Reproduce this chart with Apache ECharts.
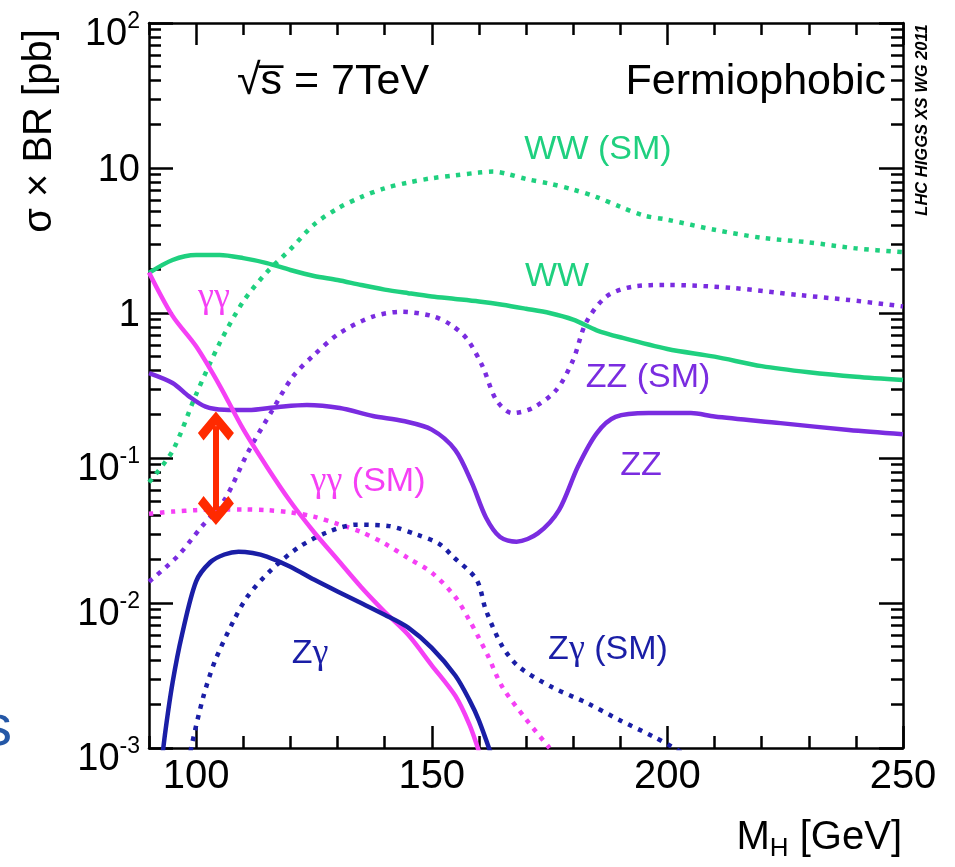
<!DOCTYPE html>
<html><head><meta charset="utf-8">
<script src="https://cdn.jsdelivr.net/npm/echarts@6/dist/echarts.min.js"></script>
<style>html,body{margin:0;padding:0;background:#fff}#c{width:955px;height:867px}</style>
</head><body><div id="c"></div>
<script>
// ---------------- data (M_H in GeV, sigma x BR in pb) ----------------
const wwMass = [90, 95, 100, 105, 110, 115, 120, 125, 130, 135, 140, 145, 150, 155, 160, 165, 170, 175, 180, 185, 190, 200, 210, 220, 230, 240, 250];
const wwVal  = [1.89, 2.32, 2.51, 2.51, 2.39, 2.21, 1.98, 1.80, 1.69, 1.56, 1.45, 1.37, 1.30, 1.25, 1.20, 1.14, 1.07, 1.00, 0.90, 0.76, 0.68, 0.565, 0.50, 0.43, 0.39, 0.363, 0.345];

const wwSmMass = [90, 95, 100, 105, 110, 115, 120, 125, 130, 135, 140, 145, 150, 155, 160, 163, 166, 170, 175, 180, 185, 190, 195, 200, 210, 220, 230, 240, 250];
const wwSmVal  = [0.068, 0.112, 0.275, 0.62, 1.20, 1.91, 2.75, 4.07, 5.25, 6.3, 7.24, 7.94, 8.5, 8.9, 9.3, 9.45, 9.1, 8.4, 7.8, 7.1, 6.3, 5.4, 4.7, 4.4, 3.75, 3.3, 3.07, 2.79, 2.63];

const ggMass = [90, 95, 100, 105, 110, 115, 120, 125, 130, 135, 140, 145, 150, 155, 158, 160];
const ggVal  = [1.905, 0.955, 0.589, 0.316, 0.158, 0.0871, 0.0501, 0.0309, 0.01995, 0.0129, 0.0087, 0.00603, 0.00372, 0.00229, 0.00145, 0.00095];

const ggSmMass = [90, 95, 100, 105, 110, 115, 120, 125, 130, 135, 140, 145, 150, 155, 158, 160, 162, 165, 170, 175];
const ggSmVal  = [0.0412, 0.0427, 0.0437, 0.0442, 0.0442, 0.0437, 0.0422, 0.0394, 0.0351, 0.0309, 0.0257, 0.0204, 0.0162, 0.011, 0.00759, 0.00575, 0.00427, 0.00263, 0.00158, 0.001];

const zgMass = [92.5, 93.5, 95, 97, 100, 103, 106, 109, 112, 115, 120, 125, 130, 135, 140, 145, 150, 155, 158, 160, 163];
const zgVal  = [0.000708, 0.00132, 0.00282, 0.00603, 0.0141, 0.0191, 0.0216, 0.0226, 0.0221, 0.0209, 0.0178, 0.0145, 0.012, 0.01, 0.0083, 0.00676, 0.0049, 0.00316, 0.00214, 0.00155, 0.00083];

const zgSmMass = [98.5, 99, 101.5, 104, 108, 111, 116, 122, 128, 134, 141, 147, 151.5, 154.5, 159.5, 161.5, 165, 168.5, 175.5, 183, 190, 197, 201, 203];
const zgSmVal  = [0.000794, 0.00102, 0.00224, 0.00398, 0.00759, 0.0112, 0.017, 0.0245, 0.0309, 0.0347, 0.0339, 0.0295, 0.0257, 0.0209, 0.0145, 0.00891, 0.00501, 0.00363, 0.00263, 0.00204, 0.00155, 0.0012, 0.00102, 0.00093];

const zzMass = [90, 95, 98.5, 102, 106, 111, 117.5, 123.5, 130.5, 137.5, 144, 150, 155, 158.5, 161.5, 164.5, 168, 172.5, 177, 181, 185, 189, 196, 205, 210, 224, 238.5, 250];
const zzVal  = [0.385, 0.329, 0.266, 0.226, 0.215, 0.214, 0.225, 0.232, 0.221, 0.195, 0.18, 0.157, 0.1135, 0.0676, 0.0389, 0.0285, 0.0265, 0.0302, 0.0437, 0.0871, 0.148, 0.192, 0.204, 0.204, 0.193, 0.174, 0.156, 0.146];

const zzSmMass = [90, 96, 101, 106, 111, 116, 120.5, 125, 130.5, 137.5, 143.5, 150, 154, 157.5, 160.8, 163.7, 167.1, 171.4, 176.4, 180, 182.7, 187, 192.5, 200, 214, 228, 238.5, 250];
const zzSmVal  = [0.01403, 0.0209, 0.0331, 0.0513, 0.1096, 0.209, 0.363, 0.513, 0.728, 0.944, 1.02, 0.955, 0.832, 0.661, 0.427, 0.251, 0.204, 0.221, 0.294, 0.474, 0.853, 1.294, 1.517, 1.56, 1.486, 1.33, 1.23, 1.11];

// red double arrow (annotation) in data units: centres of the two arrow heads
const arrowMass = 104.2;
const arrowEnds = [0.166, 0.0435];

// ---------------- ticks ----------------
const xMajorTicks = [100, 150, 200, 250];
const xMinorTicks = [90, 100, 110, 120, 130, 140, 150, 160, 170, 180, 190, 200, 210, 220, 230, 240, 250];
const yMinorTicks = [0.002,0.003,0.004,0.005,0.006,0.007,0.008,0.009,
                     0.02,0.03,0.04,0.05,0.06,0.07,0.08,0.09,
                     0.2,0.3,0.4,0.5,0.6,0.7,0.8,0.9,
                     2,3,4,5,6,7,8,9,
                     20,30,40,50,60,70,80,90];

// ---------------- style ----------------
const FONT = '"Liberation Sans", Arial, Helvetica, sans-serif';
const SERIF = '"Liberation Serif", "DejaVu Serif", serif';
const GREEN = '#1fd07f', PURPLE = '#7a2ce0', MAGENTA = '#f540f5', NAVY = '#1a1ea6', RED = '#ff2a00';

function pairs(xs, ys) { return xs.map((x, i) => [x, ys[i]]); }
function curve(name, xs, ys, color, dotted) {
  return {
    name, type: 'line', data: pairs(xs, ys), xAxisIndex: 0, yAxisIndex: 0,
    showSymbol: false, symbol: 'none', smooth: 0.3, clip: true,
    silent: true, animation: false, z: dotted ? 2 : 3,
    lineStyle: { color, width: 4.5, type: dotted ? [4.5, 6.5] : 'solid', cap: 'butt', join: 'round' }
  };
}

const blackLine = { color: '#000', width: 2.5 };
function xAx(pos, ticks, len, showLine, showLabel) {
  return {
    type: 'value', position: pos, min: 90, max: 250,
    axisLine: { show: showLine, onZero: false, lineStyle: blackLine },
    axisTick: { show: true, inside: true, length: len, customValues: ticks, lineStyle: blackLine },
    axisLabel: showLabel ? { show: true, customValues: xMajorTicks, fontSize: 40, color: '#000', fontFamily: FONT, margin: 9 } : { show: false },
    splitLine: { show: false }
  };
}
function yLogAx(pos, showLabel) {
  return {
    type: 'log', logBase: 10, position: pos, min: 0.001, max: 100, splitNumber: 5,
    axisLine: { show: true, onZero: false, lineStyle: blackLine },
    axisTick: { show: true, inside: true, length: 24, lineStyle: blackLine },
    axisLabel: showLabel ? {
      show: true, margin: 9, color: '#000', fontFamily: FONT, showMinLabel: true, showMaxLabel: true,
      formatter: function (v) {
        const e = Math.round(Math.log10(v));
        if (e === 0) return '{p|1}';
        if (e === 1) return '{p|10}';
        return '{b|10}{s|' + e + '}';
      },
      rich: {
        p: { fontSize: 38, fontFamily: FONT, color: '#000', lineHeight: 38, padding: [6, 0, 0, 0] },
        b: { fontSize: 38, fontFamily: FONT, color: '#000', lineHeight: 38, verticalAlign: 'bottom' },
        s: { fontSize: 23, fontFamily: FONT, color: '#000', lineHeight: 62, verticalAlign: 'top', padding: [18, 0, 0, 0] }
      }
    } : { show: false },
    splitLine: { show: false }
  };
}
function yMinorAx(pos) {
  return {
    type: 'value', position: pos, min: -3, max: 2,
    axisLine: { show: false, onZero: false },
    axisTick: { show: true, inside: true, length: 12, customValues: yMinorTicks.map(Math.log10), lineStyle: blackLine },
    axisLabel: { show: false }, splitLine: { show: false }
  };
}

const CHEVRON = 'path://M0,0 L16,14 L11,19 L0,9 L-11,19 L-16,14 Z';

function label(rich, x, y, color) {
  return { type: 'text', x, y, silent: true, z: 10,
    style: { text: rich, fill: color, textAlign: 'center', textVerticalAlign: 'middle', font: '34px ' + FONT,
      rich: { n: { fontSize: 34, fontFamily: FONT, fill: color, color: color },
              g: { fontSize: 36, fontFamily: SERIF, fill: color, color: color } } } };
}

const option = {
  animation: false,
  backgroundColor: '#fff',
  grid: { left: 149, right: 52, top: 23, bottom: 119, containLabel: false, outerBoundsMode: 'none' },
  xAxis: [
    xAx('bottom', xMajorTicks, 22, true, true),
    xAx('bottom', xMinorTicks, 12, false, false),
    xAx('top', xMajorTicks, 22, true, false),
    xAx('top', xMinorTicks, 12, false, false)
  ],
  yAxis: [
    yLogAx('left', true),
    yMinorAx('left'),
    yLogAx('right', false),
    yMinorAx('right')
  ],
  series: [
    curve('WW (SM)', wwSmMass, wwSmVal, GREEN, true),
    curve('ZZ (SM)', zzSmMass, zzSmVal, PURPLE, true),
    curve('γγ (SM)', ggSmMass, ggSmVal, MAGENTA, true),
    curve('Zγ (SM)', zgSmMass, zgSmVal, NAVY, true),
    curve('WW', wwMass, wwVal, GREEN, false),
    curve('ZZ', zzMass, zzVal, PURPLE, false),
    curve('γγ', ggMass, ggVal, MAGENTA, false),
    curve('Zγ', zgMass, zgVal, NAVY, false),
    {
      name: 'arrow', type: 'line', data: [], xAxisIndex: 0, yAxisIndex: 0, z: 5,
      markLine: {
        silent: true, animation: false,
        symbol: [CHEVRON, CHEVRON], symbolSize: [36, 29],
        label: { show: false },
        lineStyle: { color: RED, width: 6, type: 'solid' },
        itemStyle: { color: RED },
        emphasis: { disabled: true },
        data: [[{ coord: [arrowMass, arrowEnds[0]] }, { coord: [arrowMass, arrowEnds[1]] }]]
      }
    }
  ],
  graphic: [
    { type: 'text', x: 40, y: 131, rotation: Math.PI / 2, silent: true,
      style: { text: 'σ × BR [pb]', fill: '#000', font: '40px ' + FONT, textAlign: 'center', textVerticalAlign: 'middle' } },
    { type: 'text', x: 902, y: 840, silent: true,
      style: { text: '{a|M}{b|H}{a| [GeV]}', fill: '#000', textAlign: 'right', textVerticalAlign: 'middle',
        rich: { a: { fontSize: 40, fontFamily: FONT, color: '#000', lineHeight: 44, verticalAlign: 'top' },
                b: { fontSize: 26, fontFamily: FONT, color: '#000', lineHeight: 30, verticalAlign: 'bottom', padding: [14, 0, 0, 0] } } } },
    { type: 'text', x: 237, y: 82, silent: true,
      style: { text: '√s\u0305 = 7TeV', fill: '#000', font: '43px ' + FONT, textAlign: 'left', textVerticalAlign: 'middle' } },
    { type: 'text', x: 886, y: 82, silent: true,
      style: { text: 'Fermiophobic', fill: '#000', font: '43px ' + FONT, textAlign: 'right', textVerticalAlign: 'middle' } },
    { type: 'text', x: 922, y: 120, rotation: Math.PI / 2, silent: true,
      style: { text: 'LHC HIGGS XS WG 2011', fill: '#000', font: 'italic bold 16.5px ' + FONT, textAlign: 'center', textVerticalAlign: 'middle' } },
    { type: 'text', x: -17, y: 729, silent: true,
      style: { text: 's', fill: '#2457a6', font: '58px ' + FONT, textAlign: 'left', textVerticalAlign: 'middle' } },
    label('{n|WW (SM)}', 598, 150, GREEN),
    label('{n|WW}', 557, 277, GREEN),
    label('{g|γγ}', 214, 298, MAGENTA),
    label('{n|ZZ (SM)}', 648, 378, PURPLE),
    label('{g|γγ}{n| (SM)}', 368, 482, MAGENTA),
    label('{n|ZZ}', 641, 466, PURPLE),
    label('{n|Z}{g|γ}', 310, 654, NAVY),
    label('{n|Z}{g|γ}{n| (SM)}', 608, 650, NAVY)
  ]
};

const chart = echarts.init(document.getElementById('c'), null, { renderer: 'canvas' });
chart.setOption(option);
</script>
</body></html>
